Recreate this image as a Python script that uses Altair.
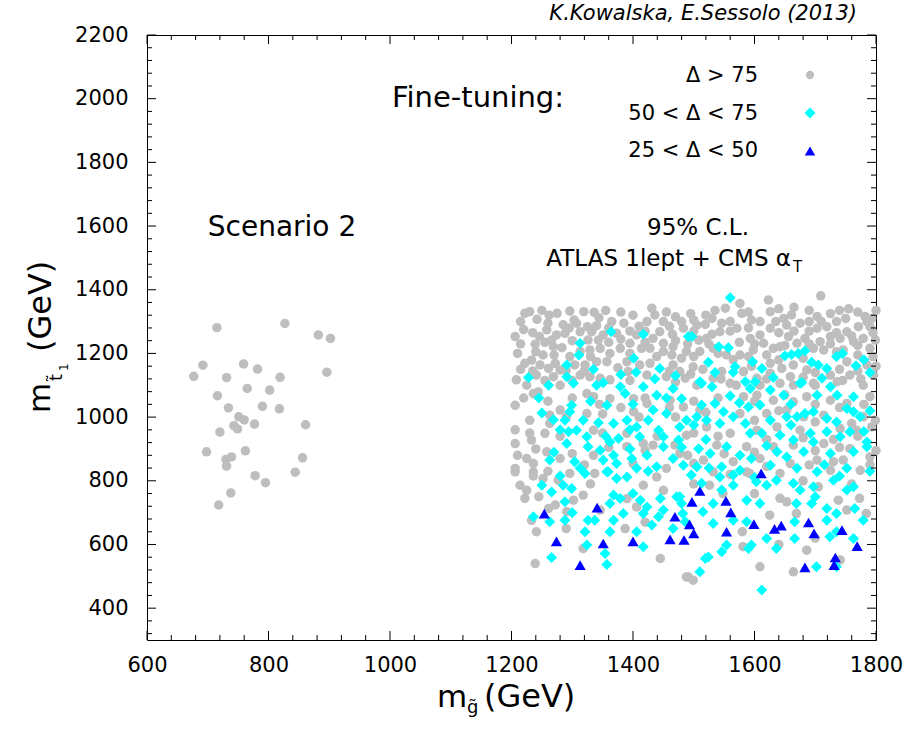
import altair as alt
import pandas as pd

# ---------------- data (GeV) ----------------
gray_left = [
    (715, 1281), (827, 1294), (882, 1258), (902, 1247), (692, 1163), (759, 1167),
    (782, 1151), (677, 1128), (731, 1124), (819, 1125), (896, 1141), (765, 1090),
    (802, 1085), (716, 1067), (734, 1029), (790, 1034), (818, 1026), (751, 1001),
    (760, 991), (777, 978), (861, 976), (743, 973), (749, 963), (720, 953),
    (698, 891), (762, 894), (739, 875), (730, 867), (731, 846), (856, 872),
    (844, 827), (778, 816), (795, 794), (738, 762), (718, 724),
]

gray_right = [
    (1222, 1326), (1230, 1331), (1242, 1307), (1275, 1326), (1296, 1333), (1319, 1331),
    (1336, 1329), (1303, 1305), (1307, 1295), (1344, 1312), (1325, 1284), (1340, 1287),
    (1258, 1274), (1274, 1258), (1206, 1253), (1246, 1253), (1266, 1242), (1288, 1263),
    (1313, 1268), (1332, 1268), (1351, 1258), (1373, 1263), (1343, 1242), (1326, 1242),
    (1239, 1229), (1269, 1221), (1283, 1218), (1252, 1195), (1233, 1179), (1222, 1169),
    (1247, 1164), (1272, 1169), (1296, 1190), (1313, 1206), (1329, 1211), (1346, 1216),
    (1362, 1200), (1379, 1216), (1357, 1174), (1340, 1174), (1321, 1164), (1304, 1164),
    (1261, 1153), (1280, 1148), (1208, 1117), (1241, 1132), (1269, 1127), (1313, 1132),
    (1329, 1127), (1346, 1122), (1362, 1117), (1395, 1232), (1406, 1258), (1431, 1342),
    (1436, 1321), (1423, 1300), (1450, 1300), (1444, 1268), (1433, 1247), (1414, 1216),
    (1428, 1216), (1450, 1232), (1466, 1221), (1480, 1300), (1483, 1279), (1464, 1195),
    (1450, 1206), (1439, 1190), (1428, 1169), (1411, 1164), (1390, 1174), (1392, 1143),
    (1423, 1132), (1466, 1164), (1477, 1143), (1488, 1206), (1486, 1122), (1455, 1127),
    (1623, 1368), (1709, 1381), (1552, 1342), (1576, 1357), (1579, 1326), (1626, 1331),
    (1755, 1340), (1782, 1316), (1793, 1310), (1703, 1316), (1505, 1289), (1519, 1291),
    (1546, 1295), (1560, 1300), (1571, 1279), (1543, 1268), (1609, 1300), (1626, 1279),
    (1648, 1310), (1661, 1321), (1675, 1295), (1653, 1289), (1593, 1247), (1609, 1258),
    (1615, 1232), (1598, 1211), (1631, 1216), (1642, 1221), (1656, 1253), (1670, 1232),
    (1683, 1247), (1703, 1279), (1719, 1284), (1735, 1300), (1752, 1268), (1771, 1284),
    (1790, 1284), (1779, 1247), (1763, 1237), (1741, 1247), (1725, 1253), (1708, 1237),
    (1697, 1216), (1714, 1211), (1746, 1211), (1790, 1216), (1799, 1242), (1508, 1242),
    (1521, 1247), (1510, 1206), (1532, 1216), (1554, 1195), (1576, 1195), (1546, 1143),
    (1499, 1158), (1582, 1143), (1626, 1169), (1626, 1138), (1645, 1153), (1664, 1164),
    (1686, 1148), (1725, 1132), (1752, 1174), (1757, 1132), (1785, 1164), (1796, 1132),
    (1659, 1127), (1604, 1122), (1532, 1122),
    (1206, 1037), (1236, 1074), (1244, 1079), (1280, 1100), (1324, 1074), (1335, 1064),
    (1362, 1058), (1401, 1058), (1423, 1043), (1461, 1053), (1483, 1032), (1263, 1006),
    (1280, 1022), (1324, 1011), (1401, 1017), (1206, 917), (1233, 928), (1255, 949),
    (1263, 980), (1335, 959), (1390, 949), (1417, 917), (1469, 912), (1488, 943),
    (1206, 839), (1236, 854), (1258, 891), (1280, 870), (1335, 880), (1390, 907),
    (1433, 912), (1455, 839), (1477, 886), (1236, 828),
    (1505, 1100), (1560, 1106), (1609, 1100), (1642, 1106), (1664, 1100), (1697, 1106),
    (1736, 1111), (1779, 1100), (1582, 1064), (1604, 1069), (1631, 1053), (1664, 1048),
    (1686, 1064), (1725, 1053), (1752, 1043), (1790, 1064), (1510, 1022), (1576, 1011),
    (1620, 1011), (1653, 1022), (1681, 1001), (1714, 1006), (1779, 1001), (1799, 990),
    (1521, 969), (1560, 949), (1604, 959), (1637, 969), (1675, 959), (1741, 964),
    (1768, 959), (1793, 969), (1538, 912), (1587, 907), (1631, 907), (1664, 912),
    (1714, 917), (1757, 901), (1516, 865), (1565, 860), (1609, 870), (1659, 854),
    (1703, 865), (1746, 865), (1790, 875), (1532, 828), (1587, 828), (1642, 823),
    (1725, 833), (1774, 833),
    (1206, 828), (1236, 815), (1252, 807), (1214, 786), (1277, 802), (1296, 823),
    (1337, 823), (1318, 755), (1302, 739), (1272, 724), (1261, 713), (1233, 676),
    (1241, 640), (1390, 744), (1387, 650), (1417, 786), (1439, 812), (1346, 708),
    (1318, 587), (1445, 556), (1239, 540), (1488, 498), (1291, 703), (1406, 718),
    (1526, 786), (1592, 823), (1642, 745), (1653, 734), (1669, 697), (1625, 692),
    (1705, 781), (1738, 739), (1773, 745), (1752, 708), (1609, 530), (1664, 514),
    (1686, 582), (1741, 551), (1581, 593), (1491, 498), (1499, 488), (1548, 760),
    (1784, 697), (1206, 960), (1210, 880), (1222, 745),
    # upper band, filling between the points above
    (1250, 1335), (1262, 1320), (1355, 1335), (1380, 1330), (1400, 1320), (1455, 1330),
    (1470, 1315), (1495, 1325), (1520, 1320), (1535, 1335), (1590, 1330), (1640, 1340),
    (1665, 1345), (1690, 1335), (1725, 1325), (1740, 1335), (1770, 1330), (1800, 1335),
    (1215, 1300), (1260, 1295), (1285, 1290), (1365, 1300), (1385, 1295), (1410, 1285),
    (1460, 1285), (1500, 1305), (1530, 1310), (1595, 1305), (1635, 1300), (1690, 1300),
    (1710, 1300), (1750, 1310), (1785, 1300),
    (1220, 1275), (1235, 1265), (1295, 1280), (1360, 1280), (1380, 1245), (1395, 1270),
    (1420, 1270), (1465, 1260), (1500, 1270), (1530, 1260), (1560, 1270), (1590, 1280),
    (1640, 1265), (1665, 1270), (1690, 1270), (1735, 1265), (1760, 1255), (1795, 1265),
    (1215, 1230), (1255, 1235), (1300, 1240), (1360, 1235), (1420, 1235), (1470, 1240),
    (1490, 1230), (1525, 1230), (1575, 1235), (1600, 1230), (1650, 1225), (1690, 1230),
    (1725, 1230), (1770, 1225),
    (1210, 1200), (1240, 1205), (1270, 1195), (1330, 1190), (1395, 1200), (1480, 1185),
    (1500, 1190), (1540, 1200), (1565, 1180), (1590, 1190), (1620, 1195), (1680, 1185),
    (1735, 1205), (1770, 1195), (1795, 1190),
    (1215, 1150), (1235, 1145), (1290, 1145), (1320, 1145), (1375, 1155), (1460, 1145),
    (1495, 1135), (1515, 1150), (1595, 1160), (1640, 1180), (1700, 1140), (1740, 1150),
    (1770, 1145), (1800, 1160),
    (1225, 1100), (1255, 1115), (1300, 1115), (1395, 1115), (1470, 1110), (1545, 1120),
    (1570, 1100), (1620, 1120), (1680, 1125), (1700, 1100), (1745, 1115), (1775, 1120),
    # middle band, between the cyan diamonds
    (1220, 1060), (1260, 1050), (1300, 1060), (1345, 1040), (1380, 1030), (1420, 1060),
    (1460, 1030), (1500, 1050), (1540, 1060), (1600, 1050), (1650, 1070), (1700, 1040),
    (1740, 1030), (1780, 1040), (1230, 990), (1290, 1000), (1350, 1010), (1410, 1000),
    (1470, 1000), (1520, 1015), (1600, 990), (1640, 1020), (1700, 985), (1760, 980),
    (1230, 950), (1280, 940), (1350, 950), (1440, 940), (1500, 950), (1540, 940),
    (1620, 930), (1680, 935), (1730, 930), (1770, 940), (1240, 900), (1300, 885),
    (1360, 905), (1420, 895), (1490, 880), (1550, 885), (1600, 890), (1700, 895),
    (1740, 905), (1800, 895), (1225, 870), (1260, 830), (1320, 850), (1400, 855),
    (1500, 855), (1560, 820), (1620, 845), (1690, 850), (1730, 860), (1790, 850),
    # lower part
    (1225, 770), (1245, 750), (1330, 790), (1450, 770), (1500, 790), (1600, 760),
    (1680, 800), (1760, 790), (1290, 650), (1420, 670), (1580, 640), (1700, 620),
    (1640, 600),
]

cyan_pts = [
    (1364, 1268), (1417, 1260), (1313, 1232), (1311, 1195), (1291, 1164), (1401, 1185),
    (1444, 1153), (1405, 1141), (1380, 1134), (1228, 1124), (1291, 1127), (1436, 1120),
    (1491, 1253),
    (1560, 1375), (1497, 1253), (1541, 1221), (1557, 1218), (1524, 1172), (1568, 1158),
    (1565, 1141), (1597, 1174), (1612, 1153), (1631, 1124), (1650, 1193), (1661, 1197),
    (1672, 1200), (1683, 1208), (1694, 1172), (1705, 1164), (1719, 1153), (1735, 1190),
    (1767, 1161), (1711, 1122), (1678, 1109), (1510, 1111), (1585, 1111), (1601, 1111),
    (1261, 1100), (1302, 1106), (1340, 1100), (1351, 1108), (1379, 1095), (1387, 1074),
    (1417, 1095), (1439, 1069), (1466, 1090), (1480, 1058), (1299, 1037), (1296, 1017),
    (1250, 1013), (1269, 992), (1288, 990), (1318, 990), (1357, 1037), (1368, 980),
    (1343, 982), (1390, 990), (1406, 969), (1433, 1022), (1425, 990), (1455, 1011),
    (1442, 959), (1477, 969), (1488, 990), (1294, 954), (1307, 959), (1324, 938),
    (1362, 922), (1376, 933), (1411, 938), (1450, 938), (1475, 928), (1291, 917),
    (1326, 907), (1346, 896), (1368, 880), (1398, 870), (1423, 880), (1450, 907),
    (1263, 865), (1304, 860), (1351, 865), (1373, 854), (1466, 870), (1313, 839),
    (1406, 839), (1439, 844), (1483, 849), (1357, 828),
    (1513, 1106), (1530, 1095), (1593, 1090), (1626, 1085), (1648, 1069), (1675, 1106),
    (1725, 1095), (1703, 1069), (1736, 1069), (1763, 1064), (1560, 1066), (1535, 1043),
    (1513, 1038), (1590, 1032), (1609, 1038), (1549, 1017), (1626, 990), (1653, 1001),
    (1670, 1001), (1683, 1011), (1697, 1017), (1719, 996), (1752, 1027), (1774, 1001),
    (1763, 1017), (1505, 1001), (1521, 990), (1543, 980), (1565, 1001), (1585, 980),
    (1593, 949), (1612, 949), (1642, 943), (1664, 928), (1692, 949), (1719, 954),
    (1741, 938), (1757, 954), (1785, 922), (1508, 901), (1527, 886), (1554, 907),
    (1576, 880), (1637, 891), (1653, 875), (1681, 891), (1697, 922), (1725, 886),
    (1763, 891), (1785, 907), (1505, 844), (1546, 844), (1576, 833), (1626, 849),
    (1670, 839), (1703, 828), (1752, 839),
    (1250, 786), (1266, 765), (1285, 786), (1299, 776), (1288, 734), (1321, 823),
    (1359, 828), (1373, 807), (1390, 812), (1368, 755), (1379, 744), (1362, 729),
    (1412, 739), (1423, 718), (1445, 744), (1472, 750), (1480, 729), (1236, 687),
    (1263, 671), (1288, 676), (1326, 676), (1337, 676), (1368, 676), (1384, 697),
    (1417, 697), (1442, 687), (1431, 661), (1466, 650), (1486, 671), (1321, 640),
    (1362, 640), (1406, 640), (1324, 598), (1417, 593), (1266, 559), (1354, 572),
    (1357, 537), (1450, 708),
    (1496, 818), (1543, 812), (1565, 818), (1513, 792), (1546, 771), (1565, 786),
    (1603, 797), (1620, 786), (1636, 802), (1664, 792), (1675, 771), (1697, 781),
    (1730, 802), (1752, 771), (1763, 781), (1477, 750), (1532, 729), (1587, 739),
    (1609, 729), (1669, 729), (1694, 729), (1719, 713), (1735, 697), (1765, 713),
    (1482, 697), (1515, 703), (1532, 666), (1565, 676), (1587, 671), (1666, 671),
    (1719, 676), (1779, 676), (1724, 624), (1735, 640), (1763, 619), (1666, 619),
    (1636, 587), (1620, 619), (1590, 587), (1595, 598), (1546, 577), (1554, 598),
    (1524, 561), (1519, 556), (1510, 514), (1702, 530), (1735, 530), (1612, 457),
    # additional diamonds in the dense middle region
    (1335, 1150), (1470, 1130), (1535, 1140), (1745, 1200), (1780, 1180), (1790, 1140),
    (1245, 1060), (1330, 1050), (1400, 1040), (1455, 1060), (1575, 1045), (1660, 1040),
    (1790, 1020), (1280, 960), (1395, 960), (1500, 975), (1660, 975), (1735, 985),
    (1355, 940), (1520, 930), (1620, 910), (1780, 955), (1270, 890), (1395, 900),
    (1480, 905), (1595, 870), (1715, 850), (1790, 830), (1280, 815), (1425, 830),
    (1525, 840), (1600, 810), (1740, 815), (1300, 700), (1400, 760), (1700, 750),
]

blue_pts = [
    (1254, 697), (1341, 716), (1274, 610), (1313, 535), (1351, 603), (1400, 610),
    (1461, 616), (1484, 614), (1469, 687), (1611, 823), (1510, 768), (1497, 734),
    (1553, 737), (1561, 701), (1493, 663), (1500, 635), (1554, 640), (1599, 664),
    (1633, 649), (1644, 659), (1689, 669), (1698, 635), (1744, 645), (1769, 595),
    (1733, 559), (1731, 535), (1683, 528),
]

legend_labels = ["\u0394 > 75", "50 < \u0394 < 75", "25 < \u0394 < 50"]

x_major = [600, 800, 1000, 1200, 1400, 1600, 1800]
y_major = [400, 600, 800, 1000, 1200, 1400, 1600, 1800, 2000, 2200]
x_minor = [v for v in range(640, 1800, 40) if v % 200 != 0]
y_minor = [v for v in range(320, 2200, 40) if v % 200 != 0]

# ---------------- styling ----------------
W, H = 729, 605
FONT = "DejaVu Sans"
GRAY, CYAN, BLUE = "#bebebe", "#00ffff", "#0000ff"

xs = alt.Scale(domain=[600, 1800], nice=False, zero=False)
ys = alt.Scale(domain=[300, 2200], nice=False, zero=False)

x_axis = alt.Axis(values=x_major, format="d", ticks=False, domain=False, grid=False,
                  labelFont=FONT, labelFontSize=21, labelColor="black",
                  labelFlush=False, labelOverlap=False, labelBound=False,
                  labelPadding=14, title=None)
y_axis = alt.Axis(values=y_major, format="d", ticks=False, domain=False, grid=False,
                  labelFont=FONT, labelFontSize=21, labelColor="black",
                  labelFlush=False, labelOverlap=False, labelBound=False,
                  labelPadding=19, title=None)


def pts_df(pts):
    return pd.DataFrame(pts, columns=["mg", "mt"])


def scatter(pts, shape, color, size):
    return alt.Chart(pts_df(pts)).mark_point(
        shape=shape, filled=True, color=color, size=size, opacity=1, strokeWidth=0
    ).encode(
        x=alt.X("mg:Q", scale=xs, axis=x_axis),
        y=alt.Y("mt:Q", scale=ys, axis=y_axis),
    )


def x_ticks(vals, L):
    base = alt.Chart(pd.DataFrame({"mg": vals})).mark_rule(color="black", strokeWidth=1)
    xe = alt.X("mg:Q", scale=xs, axis=x_axis)
    return [base.encode(x=xe, y=alt.value(H), y2=alt.value(H - L)),
            base.encode(x=xe, y=alt.value(0), y2=alt.value(L))]


def y_ticks(vals, L):
    base = alt.Chart(pd.DataFrame({"mt": vals})).mark_rule(color="black", strokeWidth=1)
    ye = alt.Y("mt:Q", scale=ys, axis=y_axis)
    return [base.encode(y=ye, x=alt.value(0), x2=alt.value(L)),
            base.encode(y=ye, x=alt.value(W), x2=alt.value(W - L))]


one = pd.DataFrame({"k": [0]})


def label(text, x, y, size, align="center", baseline="alphabetic", angle=0, style="normal"):
    return alt.Chart(one).mark_text(
        text=text, font=FONT, fontSize=size, align=align, baseline=baseline,
        angle=angle, fontStyle=style, color="black"
    ).encode(x=alt.value(x), y=alt.value(y))


def marker(shape, color, size, x, y):
    return alt.Chart(one).mark_point(
        shape=shape, filled=True, color=color, size=size, opacity=1, strokeWidth=0
    ).encode(x=alt.value(x), y=alt.value(y))


layers = [
    scatter(gray_left + gray_right, "circle", GRAY, 90),
    scatter(cyan_pts, "diamond", CYAN, 121),
    scatter(blue_pts, "triangle-up", BLUE, 125),
]
layers += x_ticks(x_minor, 5) + x_ticks(x_major, 9)
layers += y_ticks(y_minor, 5) + y_ticks(y_major, 9)

# legend
layers += [
    label(legend_labels[0], 611, 47, 21, align="right"),
    label(legend_labels[1], 611, 85, 21, align="right"),
    label(legend_labels[2], 611, 122, 21, align="right"),
    marker("circle", GRAY, 70, 663, 40),
    marker("diamond", CYAN, 120, 663, 78),
    marker("triangle-up", BLUE, 110, 663, 116),
]

# annotations
layers += [
    label("Fine-tuning:", 331, 72, 29),
    label("Scenario 2", 135, 201, 28),
    label("95% C.L.", 551, 200, 23),
    label("ATLAS 1lept + CMS \u03b1", 644, 231, 23, align="right"),
    label("T", 646, 237, 15, align="left"),
    label("K.Kowalska, E.Sessolo (2013)", 710, -15, 21, align="right", style="italic"),
    # x axis title
    label("m", 290, 672, 31, align="left"),
    label("g\u0303", 320, 678, 18, align="left"),
    label("(GeV)", 337, 672, 32, align="left"),
    # y axis title (rotated)
    label("m", -97, 378, 31, align="left", angle=270),
    label("t\u0303", -85, 346, 18, align="left", angle=270),
    label("1", -79, 336, 12, align="left", angle=270),
    label("(GeV)", -96, 317, 32, align="left", angle=270),
]

chart = alt.layer(*layers).properties(
    width=W, height=H,
    autosize=alt.AutoSizeParams(type="none"),
    padding={"left": 147, "top": 35, "right": 47, "bottom": 89},
    background="white",
).configure_view(stroke="black", strokeWidth=1)

chart.save("out.html", embed_options={"renderer": "svg", "actions": False})
